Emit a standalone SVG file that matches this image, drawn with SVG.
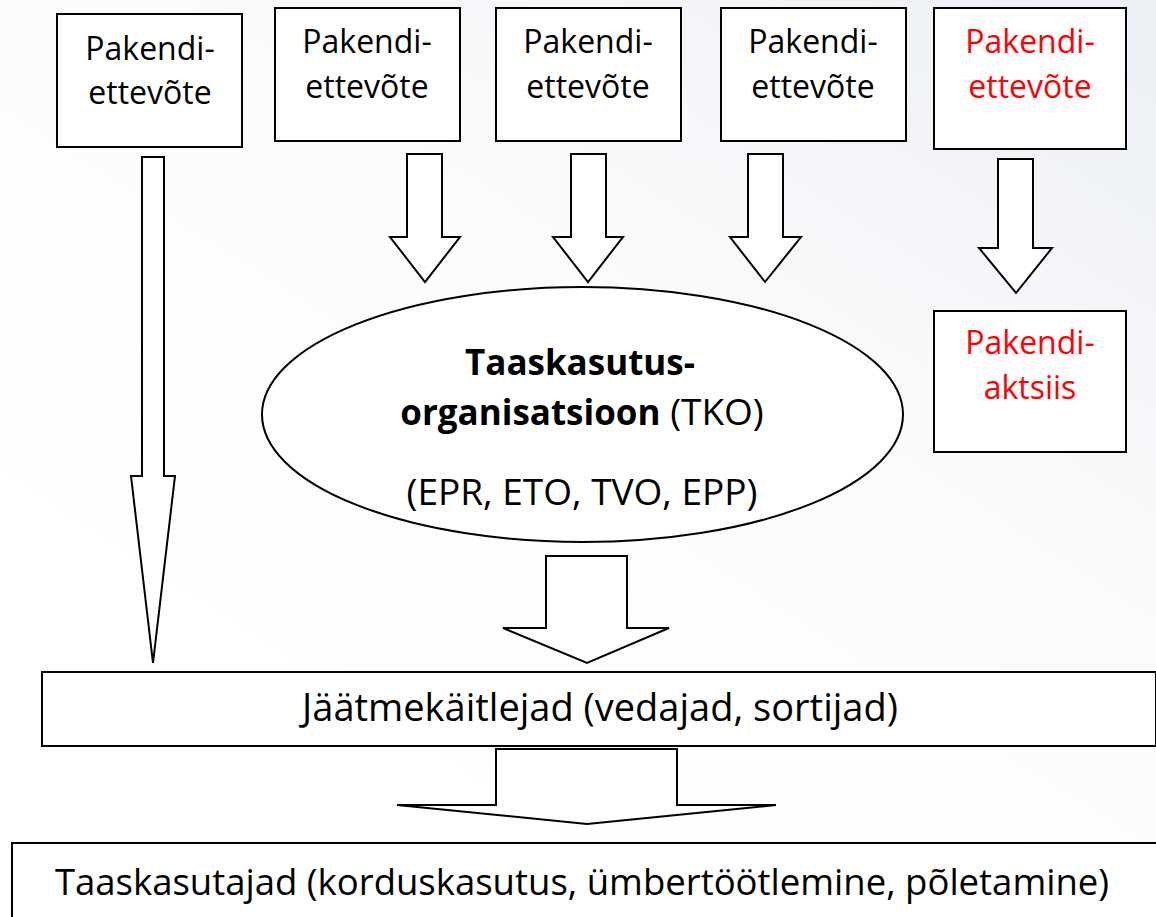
<svg xmlns="http://www.w3.org/2000/svg" width="1156" height="917" viewBox="0 0 1156 917">
<defs>
<linearGradient id="bg" x1="0.35" y1="0.8" x2="1" y2="0">
<stop offset="0" stop-color="#ffffff"/>
<stop offset="0.45" stop-color="#fbfcfd"/>
<stop offset="1" stop-color="#eceff4"/>
</linearGradient>
<style>
.box{fill:#ffffff;stroke:#000000;stroke-width:2}
.arr{fill:#ffffff;stroke:#000000;stroke-width:2;stroke-linejoin:miter}
.t{font-family:"Open Sans","Liberation Sans",sans-serif;font-size:32px;fill:#000000;text-anchor:middle}
.red{fill:#ff0000}
.big{font-size:37px}
.b{font-weight:bold;font-size:35px}
</style>
</defs>
<rect x="0" y="0" width="1156" height="917" fill="url(#bg)"/>

<g id="connectors">
<polygon class="arr" points="142,157 164,157 164,476 175,476 153,663 131,476 142,476"/>
<polygon class="arr" points="407,154 442,154 442,237 460,237 425,282 390,237 407,237"/>
<polygon class="arr" points="571,154 606,154 606,237 623,237 588,282 553,237 571,237"/>
<polygon class="arr" points="748,154 783,154 783,237 801,237 765,282 730,237 748,237"/>
<polygon class="arr" points="998,159 1033,159 1033,248 1052,248 1016,293 979,248 998,248"/>
<polygon class="arr" points="546,556 627,556 627,628 669,628 587,663 503,628 546,628"/>
<polygon class="arr" points="496,749 677,749 677,805 776,805 587,824 397,805 496,805"/>
</g>

<g id="node-company1">
<rect class="box" x="57" y="14" width="185" height="133"/>
<text class="t" x="150" y="60">Pakendi-</text>
<text class="t" x="150" y="104">ettevõte</text>
</g>
<g id="node-company2">
<rect class="box" x="275" y="8" width="185" height="133"/>
<text class="t" x="367" y="53">Pakendi-</text>
<text class="t" x="367" y="98">ettevõte</text>
</g>
<g id="node-company3">
<rect class="box" x="496" y="8" width="185" height="133"/>
<text class="t" x="588" y="53">Pakendi-</text>
<text class="t" x="588" y="98">ettevõte</text>
</g>
<g id="node-company4">
<rect class="box" x="721" y="8" width="185" height="133"/>
<text class="t" x="813" y="53">Pakendi-</text>
<text class="t" x="813" y="98">ettevõte</text>
</g>
<g id="node-company5">
<rect class="box" x="934" y="8" width="192" height="141"/>
<text class="t red" x="1030" y="53">Pakendi-</text>
<text class="t red" x="1030" y="98">ettevõte</text>
</g>
<g id="node-excise">
<rect class="box" x="934" y="311" width="192" height="141"/>
<text class="t red" x="1030" y="354">Pakendi-</text>
<text class="t red" x="1030" y="399">aktsiis</text>
</g>
<g id="node-tko">
<ellipse class="box" cx="582.5" cy="414.5" rx="320.5" ry="127.5"/>
<text class="t b" x="580" y="375">Taaskasutus-</text>
<text class="t" x="582" y="425"><tspan class="b">organisatsioon</tspan><tspan class="big"> (TKO)</tspan></text>
<text class="t big" x="582" y="505">(EPR, ETO, TVO, EPP)</text>
</g>
<g id="node-handlers">
<rect class="box" x="42" y="672" width="1114" height="74"/>
<text class="t" x="600" y="721" style="font-size:38px">Jäätmekäitlejad (vedajad, sortijad)</text>
</g>
<g id="node-recyclers">
<rect class="box" x="12" y="843" width="1150" height="90"/>
<text class="t" x="582" y="895" style="font-size:36.5px">Taaskasutajad (korduskasutus, ümbertöötlemine, põletamine)</text>
</g>
</svg>
